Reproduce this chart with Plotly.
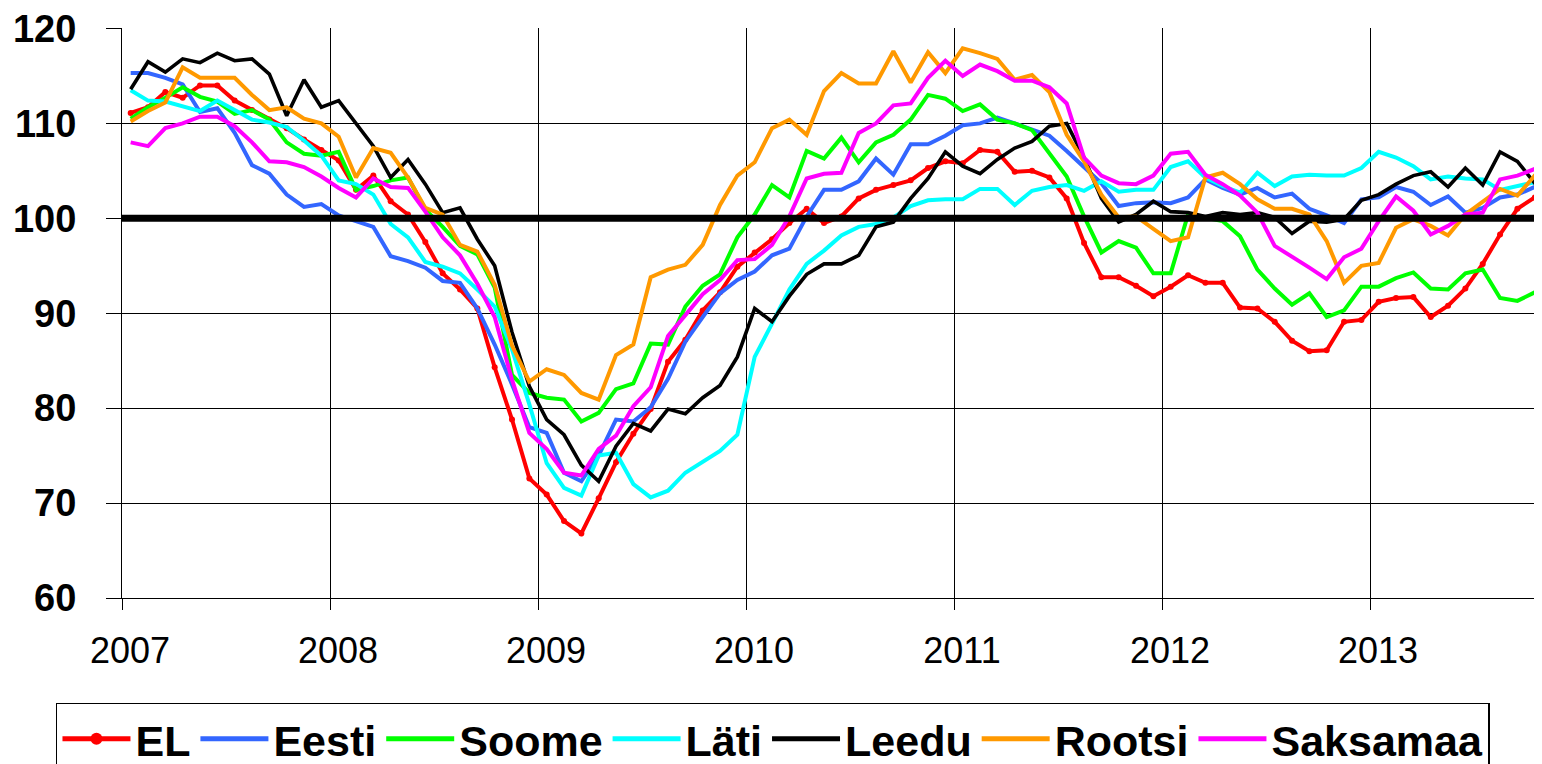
import plotly.graph_objects as go
import pandas as pd

# Monthly index values, Jan 2007 .. Nov 2013
MONTHS = pd.period_range("2007-01", periods=83, freq="M")
YEARS = ["2007", "2008", "2009", "2010", "2011", "2012", "2013"]
Y_TICKS = [60, 70, 80, 90, 100, 110, 120]
REFERENCE_LEVEL = 100

EL = [111.1, 111.7, 113.3, 112.7, 114.0, 114.0, 112.4, 111.4, 110.4, 109.5, 108.3, 107.2,
      106.1, 103.0, 104.5, 101.8, 100.4, 97.5, 94.2, 92.5, 90.5, 84.3, 78.8, 72.6,
      70.9, 68.1, 66.8, 70.5, 74.3, 77.3, 79.9, 84.9, 87.2, 90.3, 92.2, 94.9,
      96.4, 97.8, 99.5, 101.0, 99.5, 100.2, 102.1, 103.0, 103.5, 104.0, 105.3, 106.0,
      105.8, 107.2, 107.0, 104.9, 105.0, 104.3, 102.1, 97.4, 93.8, 93.8, 92.9, 91.8,
      92.8, 94.0, 93.2, 93.2, 90.6, 90.5, 89.1, 87.1, 86.0, 86.1, 89.1, 89.3,
      91.2, 91.6, 91.7, 89.6, 90.8, 92.6, 95.2, 98.3, 101.0, 102.2, 102.4]

EESTI = [115.3, 115.3, 114.8, 114.1, 111.2, 111.6, 109.0, 105.6, 104.7, 102.5, 101.2, 101.5,
         100.3, 99.7, 99.1, 96.0, 95.5, 94.8, 93.4, 93.2, 90.5, 86.7, 82.5, 78.0,
         77.4, 73.2, 72.3, 75.0, 78.8, 78.6, 80.1, 83.1, 87.0, 89.6, 92.1, 93.5,
         94.4, 96.1, 96.8, 100.2, 103.0, 103.0, 103.9, 106.3, 104.6, 107.8, 107.8, 108.7,
         109.8, 110.0, 110.6, 110.0, 109.3, 108.7, 107.1, 105.4, 103.7, 101.3, 101.6, 101.7,
         101.6, 102.2, 104.1, 103.2, 102.5, 103.2, 102.2, 102.6, 101.0, 100.3, 99.5, 102.0,
         102.2, 103.3, 102.8, 101.4, 102.3, 100.6, 101.1, 102.2, 102.5, 103.3, 103.6]

SOOME = [110.5, 111.7, 112.7, 113.8, 112.8, 112.3, 111.0, 111.4, 110.4, 108.0, 106.8, 106.6,
         107.0, 103.0, 103.4, 104.0, 104.3, 100.9, 99.1, 97.1, 96.2, 92.7, 83.5, 81.6,
         81.1, 80.9, 78.6, 79.5, 82.0, 82.6, 86.8, 86.7, 90.7, 92.9, 94.1, 98.0,
         100.4, 103.5, 102.2, 107.1, 106.3, 108.5, 105.9, 108.0, 108.8, 110.4, 113.0, 112.6,
         111.3, 112.0, 110.4, 110.0, 109.3, 106.8, 104.4, 100.2, 96.4, 97.6, 96.9, 94.2,
         94.2, 100.4, 100.1, 99.7, 98.1, 94.6, 92.6, 90.9, 92.1, 89.6, 90.3, 92.8,
         92.8, 93.7, 94.3, 92.6, 92.5, 94.2, 94.6, 91.6, 91.3, 92.2, 94.0]

LATI = [113.5, 112.4, 112.3, 111.8, 111.3, 112.4, 111.4, 110.4, 110.1, 109.6, 108.2, 106.6,
        104.0, 103.6, 102.5, 99.4, 98.0, 95.4, 94.9, 94.2, 92.5, 90.7, 86.2, 80.4,
        74.2, 71.6, 70.8, 75.0, 75.3, 72.0, 70.6, 71.3, 73.2, 74.3, 75.5, 77.2,
        85.4, 88.9, 92.5, 95.2, 96.6, 98.2, 99.1, 99.4, 100.1, 101.3, 101.9, 102.0,
        102.0, 103.1, 103.1, 101.4, 102.9, 103.3, 103.5, 102.9, 103.9, 102.8, 103.0, 103.0,
        105.4, 106.0, 104.3, 103.4, 102.7, 104.8, 103.4, 104.4, 104.6, 104.5, 104.5, 105.3,
        107.0, 106.4, 105.5, 104.1, 104.4, 104.2, 104.1, 103.0, 103.4, 103.9, 104.2]

LEEDU = [113.6, 116.5, 115.4, 116.8, 116.4, 117.4, 116.6, 116.8, 115.2, 110.8, 114.6, 111.7,
         112.4, 110.0, 107.6, 104.3, 106.2, 103.6, 100.6, 101.1, 97.8, 95.0, 88.0, 82.3,
         78.8, 77.2, 74.0, 72.3, 76.0, 78.4, 77.6, 79.9, 79.4, 81.1, 82.4, 85.4,
         90.5, 89.1, 91.8, 94.1, 95.2, 95.2, 96.1, 99.1, 99.6, 102.1, 104.2, 107.0,
         105.5, 104.7, 106.2, 107.4, 108.1, 109.7, 110.0, 106.4, 102.1, 99.6, 100.4, 101.8,
         100.7, 100.6, 100.2, 100.6, 100.4, 100.6, 100.1, 98.4, 99.7, 99.6, 99.9, 101.9,
         102.5, 103.6, 104.5, 104.9, 103.3, 105.3, 103.5, 107.0, 106.0, 103.7, 103.0]

ROOTSI = [110.2, 111.3, 112.2, 115.9, 114.8, 114.8, 114.8, 113.0, 111.4, 111.7, 110.5, 110.0,
          108.6, 104.3, 107.4, 106.9, 104.3, 101.1, 100.4, 97.2, 96.5, 93.0, 86.6, 82.8,
          84.1, 83.5, 81.6, 80.9, 85.6, 86.7, 93.8, 94.6, 95.1, 97.2, 101.4, 104.5,
          105.9, 109.5, 110.4, 108.8, 113.4, 115.3, 114.2, 114.2, 117.6, 114.3, 117.5, 115.3,
          117.9, 117.4, 116.8, 114.6, 115.1, 113.3, 108.8, 106.0, 102.5, 100.1, 100.2, 98.9,
          97.6, 98.0, 104.3, 104.8, 103.6, 102.0, 101.0, 101.0, 100.4, 97.6, 93.2, 95.0,
          95.3, 99.0, 99.9, 99.2, 98.2, 100.4, 101.8, 103.1, 102.4, 104.5, 107.0]

SAKSAMAA = [108.0, 107.6, 109.5, 110.0, 110.7, 110.7, 109.7, 108.0, 106.0, 105.9, 105.4, 104.4,
            103.2, 102.2, 104.2, 103.3, 103.2, 100.7, 98.0, 96.1, 93.1, 89.6, 83.0, 77.4,
            75.7, 73.2, 72.9, 75.7, 77.1, 80.2, 82.2, 87.6, 89.8, 92.0, 93.5, 95.6,
            95.7, 97.2, 100.2, 104.2, 104.7, 104.8, 109.0, 110.0, 111.9, 112.1, 114.8, 116.6,
            115.0, 116.2, 115.5, 114.5, 114.5, 113.8, 112.1, 106.4, 104.5, 103.7, 103.6, 104.5,
            106.8, 107.0, 104.6, 103.6, 102.4, 100.6, 97.1, 96.0, 94.8, 93.6, 95.9, 96.8,
            99.7, 102.3, 100.8, 98.3, 99.2, 100.4, 100.6, 104.1, 104.5, 105.2, 105.8]

SERIES = [
    ("EL", EL, "#FF0000"),
    ("Eesti", EESTI, "#3366FF"),
    ("Soome", SOOME, "#00FF00"),
    ("Läti", LATI, "#00FFFF"),
    ("Leedu", LEEDU, "#000000"),
    ("Rootsi", ROOTSI, "#FF9900"),
    ("Saksamaa", SAKSAMAA, "#FF00FF"),
]

# category centres (month index + 0.5), year boundaries at multiples of 12
x = [i + 0.5 for i in range(len(MONTHS))]
year_bounds = [12 * i for i in range(len(YEARS))]

FONT = "Liberation Sans, Arial, Helvetica, sans-serif"

fig = go.Figure()
for name, vals, color in SERIES:
    if name == "EL":
        fig.add_trace(go.Scatter(x=x, y=vals, name=name, mode="lines+markers",
                                 line=dict(color=color, width=4),
                                 marker=dict(color=color, size=6)))
    else:
        fig.add_trace(go.Scatter(x=x, y=vals, name=name, mode="lines",
                                 line=dict(color=color, width=3.6 if color == "#000000" else 4)))

fig.add_hline(y=REFERENCE_LEVEL, line=dict(color="black", width=7), layer="above")

# the page body has an 8px margin: figure is 8px smaller and margins compensate
fig.update_layout(
    width=1534, height=756,
    margin=dict(l=114, r=0, t=20, b=166, autoexpand=False),
    paper_bgcolor="white", plot_bgcolor="white",
    font=dict(family=FONT, color="black"),
    showlegend=True,
    legend=dict(orientation="h", x=-0.0465, xanchor="left", y=-0.184, yanchor="top",
                font=dict(family=FONT, size=43, color="black", weight="bold"),
                bordercolor="black", borderwidth=1.5, bgcolor="white",
                itemwidth=68, tracegroupgap=0, itemsizing="constant"),
    xaxis=dict(range=[0, 81.92], tickmode="array", tickvals=year_bounds, ticktext=YEARS,
               showgrid=True, gridcolor="black", gridwidth=1.2,
               ticks="outside", ticklen=11, tickwidth=1.2, tickcolor="black",
               showline=True, linecolor="black", linewidth=1.2,
               tickfont=dict(family=FONT, size=36, color="black"),
               ticklabelshift=8, ticklabelstandoff=10, zeroline=False,
               ticklabeloverflow="allow"),
    yaxis=dict(range=[60, 120.05], tickmode="array", tickvals=Y_TICKS,
               ticktext=[str(v) for v in Y_TICKS],
               showgrid=True, gridcolor="black", gridwidth=1.2,
               ticks="outside", ticklen=15, tickwidth=1.2, tickcolor="black",
               showline=True, linecolor="black", linewidth=1.2,
               tickfont=dict(family=FONT, size=38, color="black", weight="bold"),
               ticklabelstandoff=22, zeroline=False, ticklabeloverflow="allow"),
)

fig.write_html("out.html")
